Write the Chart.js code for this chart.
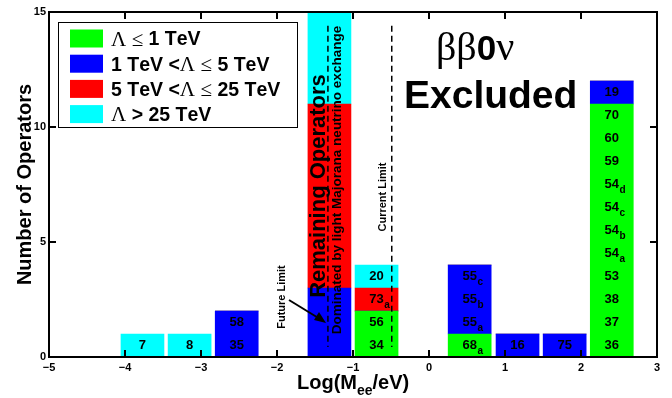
<!DOCTYPE html>
<html>
<head>
<meta charset="utf-8">
<script src="https://cdn.jsdelivr.net/npm/chart.js@4"></script>
<style>
  html, body { margin: 0; padding: 0; background: #fff; }
  #wrap { width: 672px; height: 398px; }
</style>
</head>
<body>
<div id="wrap"><canvas id="chart"></canvas></div>
<script>
// log10(Mee/eV) bin centres and operator counts per scale range
const barCenters = [-3.77, -3.15, -2.53, -1.31, -0.69, 0.535, 1.165, 1.785, 2.405];
const greenCounts = [0, 0, 0, 0, 2, 1, 0, 0, 11];
const blueCounts = [0, 0, 2, 3, 0, 3, 1, 1, 1];
const redCounts = [0, 0, 0, 8, 1, 0, 0, 0, 0];
const cyanCounts = [1, 1, 0, 4, 1, 0, 0, 0, 0];

// operator names stacked bottom -> top in each bar ("_" marks a subscript)
const operatorLabels = [
  ['7'],
  ['8'],
  ['35', '58'],
  [],
  ['34', '56', '73_a', '20'],
  ['68_a', '55_a', '55_b', '55_c'],
  ['16'],
  ['75'],
  ['36', '37', '38', '53', '54_a', '54_b', '54_c', '54_d', '59', '60', '70', '19']
];

const seriesNames = ['Λ ≤ 1 TeV', '1 TeV <Λ ≤ 5 TeV', '5 TeV <Λ ≤ 25 TeV', 'Λ > 25 TeV'];
const seriesColors = ['#00ff00', '#0000ff', '#ff0000', '#00ffff'];
const seriesCounts = [greenCounts, blueCounts, redCounts, cyanCounts];

const futureLimit = -1.33;
const currentLimit = -0.49;
const limitSpan = [0.43, 14.4];

const SANS = '"Liberation Sans", Arial, sans-serif';
const SERIF = '"Liberation Serif", "Times New Roman", serif';

function drawMixed(ctx, text, x, y, sansFont, serifFont) {
  // greek / math glyphs in serif, the rest in bold sans
  let cx = x;
  for (const ch of text) {
    ctx.font = (ch === 'Λ' || ch === '≤' || ch === 'β' || ch === 'ν') ? serifFont : sansFont;
    ctx.fillText(ch, cx, y);
    cx += ctx.measureText(ch).width;
  }
}

function drawRotated(ctx, text, x, y, font) {
  ctx.save();
  ctx.translate(x, y);
  ctx.rotate(-Math.PI / 2);
  ctx.font = font;
  ctx.textAlign = 'center';
  ctx.textBaseline = 'middle';
  ctx.fillText(text, 0, 0);
  ctx.restore();
}

const overlayPlugin = {
  id: 'overlay',
  afterDatasetsDraw(chart) {
    const { ctx, chartArea: area, scales: { x, y } } = chart;
    ctx.save();

    // operator numbers inside bars
    ctx.fillStyle = '#000';
    ctx.textBaseline = 'middle';
    operatorLabels.forEach((list, i) => {
      const px = x.getPixelForValue(barCenters[i]);
      list.forEach((lab, k) => {
        const py = y.getPixelForValue(k + 0.5);
        const [main, sub] = lab.split('_');
        ctx.font = 'bold 13px ' + SANS;
        ctx.textAlign = 'center';
        const w = ctx.measureText(main).width;
        ctx.fillText(main, px, py);
        if (sub) {
          ctx.font = 'bold 10px ' + SANS;
          ctx.textAlign = 'left';
          ctx.fillText(sub, px + w / 2 + 0.5, py + 6);
        }
      });
    });

    // limit lines
    ctx.strokeStyle = '#000';
    ctx.lineWidth = 1.5;
    ctx.setLineDash([6, 4]);
    [futureLimit, currentLimit].forEach((v) => {
      const px = x.getPixelForValue(v);
      ctx.beginPath();
      ctx.moveTo(px, y.getPixelForValue(limitSpan[1]));
      ctx.lineTo(px, y.getPixelForValue(limitSpan[0]));
      ctx.stroke();
    });
    ctx.setLineDash([]);

    drawRotated(ctx, 'Remaining Operators', 319, 186, 'bold 22px ' + SANS);
    drawRotated(ctx, 'Dominated by light Majorana neutrino exchange', 337, 180, 'bold 13.5px ' + SANS);
    drawRotated(ctx, 'Current Limit', 383, 197, 'bold 11px ' + SANS);
    drawRotated(ctx, 'Future Limit', 282, 297, 'bold 11px ' + SANS);

    // arrow to the future limit
    ctx.lineWidth = 2;
    ctx.beginPath();
    ctx.moveTo(289, 300);
    ctx.lineTo(320, 319);
    ctx.stroke();
    ctx.beginPath();
    ctx.moveTo(326, 323);
    ctx.lineTo(314, 320);
    ctx.lineTo(319, 312);
    ctx.closePath();
    ctx.fill();

    // frame and inward ticks
    ctx.lineWidth = 2;
    ctx.strokeRect(area.left, area.top, area.right - area.left, area.bottom - area.top);
    ctx.beginPath();
    x.ticks.forEach((t) => {
      if (t.value <= x.min || t.value >= x.max) return;
      const px = x.getPixelForValue(t.value);
      ctx.moveTo(px, area.bottom);
      ctx.lineTo(px, area.bottom - 7);
      ctx.moveTo(px, area.top);
      ctx.lineTo(px, area.top + 7);
    });
    y.ticks.forEach((t) => {
      if (t.value <= y.min || t.value >= y.max) return;
      const py = y.getPixelForValue(t.value);
      ctx.moveTo(area.left, py);
      ctx.lineTo(area.left + 7, py);
      ctx.moveTo(area.right, py);
      ctx.lineTo(area.right - 7, py);
    });
    ctx.stroke();

    // legend box
    ctx.fillStyle = '#fff';
    ctx.fillRect(58, 22, 239, 105);
    ctx.lineWidth = 1;
    ctx.strokeRect(58.5, 22.5, 239, 105);
    seriesNames.forEach((name, i) => {
      const rowY = 38.5 + i * 25.2;
      ctx.fillStyle = seriesColors[i];
      ctx.fillRect(70, rowY - 9, 33, 18);
      ctx.fillStyle = '#000';
      ctx.textAlign = 'left';
      ctx.textBaseline = 'middle';
      drawMixed(ctx, name, 111, rowY + 1.5, 'bold 19.5px ' + SANS, '21px ' + SERIF);
    });

    // annotation
    ctx.textBaseline = 'alphabetic';
    drawMixed(ctx, 'ββ', 436, 60, 'bold 30px ' + SANS, '40px ' + SERIF);
    ctx.font = '40px ' + SERIF;
    const bw = ctx.measureText('β').width * 2;
    ctx.font = 'bold 35px ' + SANS;
    ctx.fillText('0', 436 + bw, 60);
    const zw = ctx.measureText('0').width;
    ctx.font = '40px ' + SERIF;
    ctx.fillText('ν', 436 + bw + zw, 60);
    ctx.font = 'bold 39px ' + SANS;
    ctx.fillText('Excluded', 404, 108);

    // x title with subscript
    const tx = 297, ty = 389;
    ctx.font = 'bold 20px ' + SANS;
    ctx.fillText('Log(M', tx, ty);
    let cx = tx + ctx.measureText('Log(M').width;
    ctx.font = 'bold 14px ' + SANS;
    ctx.fillText('ee', cx, ty + 6);
    cx += ctx.measureText('ee').width;
    ctx.font = 'bold 20px ' + SANS;
    ctx.fillText('/eV)', cx, ty);

    ctx.restore();
  }
};

const datasets = seriesCounts.map((counts, i) => ({
  label: seriesNames[i],
  data: barCenters.map((c, j) => ({ x: c, y: counts[j] })),
  backgroundColor: seriesColors[i],
  borderWidth: 0,
  barThickness: 43,
  grouped: false
}));

new Chart(document.getElementById('chart'), {
  type: 'bar',
  data: { datasets },
  options: {
    responsive: true,
    maintainAspectRatio: false,
    animation: false,
    layout: { padding: { top: 12, right: 15, left: 0, bottom: 0 } },
    plugins: { legend: { display: false }, tooltip: { enabled: false } },
    scales: {
      x: {
        type: 'linear',
        min: -5,
        max: 3,
        offset: false,
        grid: { display: false, drawTicks: false, offset: false },
        border: { display: false },
        ticks: {
          stepSize: 1,
          color: '#000',
          padding: 4,
          font: { family: SANS, size: 11, weight: 'bold' },
          callback: (v) => (v < 0 ? '\u2212' + Math.abs(v) : String(v))
        },
        afterFit: (scale) => { scale.height = 41; }
      },
      y: {
        stacked: true,
        min: 0,
        max: 15,
        grid: { display: false, drawTicks: false },
        border: { display: false },
        ticks: {
          stepSize: 5,
          color: '#000',
          padding: 3,
          font: { family: SANS, size: 11, weight: 'bold' }
        },
        title: {
          display: true,
          text: 'Number of Operators',
          color: '#000',
          padding: { top: 13, bottom: 0 },
          font: { family: SANS, size: 20, weight: 'bold' }
        },
        afterFit: (scale) => { scale.width = 49; }
      }
    }
  },
  plugins: [overlayPlugin]
});
</script>
</body>
</html>
